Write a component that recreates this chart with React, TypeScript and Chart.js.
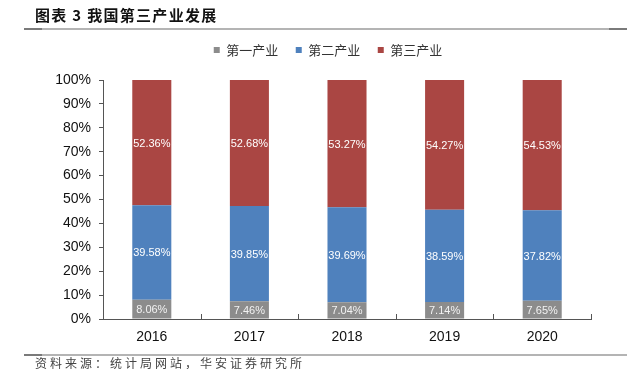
import React, { useEffect, useRef } from "react";
import { Chart, registerables } from "chart.js";

Chart.register(...registerables);

const categories = ["2016", "2017", "2018", "2019", "2020"];
const primary = [8.06, 7.46, 7.04, 7.14, 7.65];
const secondary = [39.58, 39.85, 39.69, 38.59, 37.82];
const tertiary = [52.36, 52.68, 53.27, 54.27, 54.53];
const seriesNames = ["第一产业", "第二产业", "第三产业"];
const seriesColors = ["#8C8C8C", "#4F81BD", "#AA4643"];
const labelColors = ["#F2F2F2", "#FFFFFF", "#FFFFFF"];
const yTicks = [0, 10, 20, 30, 40, 50, 60, 70, 80, 90, 100];

const LATIN = "'Liberation Sans', Arial, sans-serif";
const CJK = "'Noto Sans CJK SC', sans-serif";

const segLabels = {
  id: "segLabels",
  afterDatasetsDraw(chart: any) {
    const ctx = chart.ctx;
    ctx.save();
    ctx.font = `11px ${LATIN}`;
    ctx.textAlign = "center";
    ctx.textBaseline = "middle";
    chart.data.datasets.forEach((ds: any, di: number) => {
      const meta = chart.getDatasetMeta(di);
      meta.data.forEach((bar: any, i: number) => {
        const p = bar.getProps(["x", "y", "base"], true);
        ctx.fillStyle = labelColors[di];
        ctx.fillText(ds.data[i].toFixed(2) + "%", p.x, (p.y + p.base) / 2 + 1);
      });
    });
    ctx.restore();
  },
};

const catTicks = {
  id: "catTicks",
  afterLayout(chart: any) {
    // let the y tick labels extend into the left padding without being clipped
    chart.scales.y.left = 0;
  },
  afterDraw(chart: any) {
    const xs = chart.scales.x;
    const ctx = chart.ctx;
    const n = categories.length;
    const step = (xs.right - xs.left) / n;
    ctx.save();
    ctx.strokeStyle = "#555";
    ctx.lineWidth = 1;
    for (let i = 1; i <= n; i++) {
      const x = Math.round(xs.left + step * i) + 0.5;
      ctx.beginPath();
      ctx.moveTo(x, xs.top);
      ctx.lineTo(x, xs.top - 5);
      ctx.stroke();
    }
    ctx.restore();
  },
};

export default function App() {
  const ref = useRef<HTMLCanvasElement>(null);
  useEffect(() => {
    const chart = new Chart(ref.current!, {
      type: "bar",
      data: {
        labels: categories,
        datasets: [primary, secondary, tertiary].map((d, i) => ({
          label: seriesNames[i],
          data: d,
          backgroundColor: seriesColors[i],
          borderWidth: 0,
          barPercentage: 0.4,
          categoryPercentage: 1,
        })),
      },
      options: {
        animation: false,
        responsive: false,
        events: [],
        layout: { padding: { top: 26, left: 65, right: 47, bottom: 0 } },
        plugins: {
          tooltip: { enabled: false },
          legend: {
            position: "top",
            labels: {
              boxWidth: 6,
              boxHeight: 6,
              padding: 17.5,
              color: "#333",
              font: { family: CJK, size: 13 },
            },
          },
          title: {
            display: true,
            text: "",
            weight: 500,
            padding: { top: 3.5, bottom: 0 },
            font: { size: 10, lineHeight: 1 },
          } as any,
        },
        scales: {
          x: {
            stacked: true,
            grid: { display: false, drawTicks: false },
            border: { display: true, color: "#555", width: 1 },
            ticks: { color: "#111", font: { family: LATIN, size: 14 }, padding: 10 },
            afterFit: (s: any) => {
              s.height = 50;
            },
          },
          y: {
            stacked: true,
            min: 0,
            max: 100,
            grid: { drawOnChartArea: false, drawTicks: true, tickLength: 4, color: "#555" },
            border: { display: true, color: "#555", width: 1 },
            afterBuildTicks: (s: any) => {
              s.ticks = yTicks.map((v) => ({ value: v }));
            },
            ticks: {
              color: "#111",
              font: { family: LATIN, size: 14 },
              padding: 8,
              callback: (v: any) => v + "%",
            },
            afterFit: (s: any) => {
              s.width = 38;
            },
          },
        },
      },
      plugins: [segLabels, catTicks],
    } as any);
    return () => chart.destroy();
  }, []);

  const lineStyle = (top: number): React.CSSProperties => ({
    position: "absolute",
    left: 24,
    top,
    width: 603,
    height: 2,
    background: "#B4B4B4",
  });
  const capStyle = (top: number, left: number): React.CSSProperties => ({
    position: "absolute",
    left,
    top,
    width: 18,
    height: 2,
    background: "#7A7A7A",
  });

  return (
    <div style={{ position: "absolute", left: 0, top: 0, width: 638, height: 369, background: "#fff", overflow: "hidden" }}>
      <canvas ref={ref} width={638} height={369} style={{ position: "absolute", left: 0, top: 0 }} />
      <div
        style={{
          position: "absolute",
          left: 35,
          top: 5,
          fontFamily: CJK,
          fontWeight: 700,
          fontSize: 15,
          lineHeight: "20px",
          letterSpacing: 1.3,
          color: "#111",
          whiteSpace: "pre",
        }}
      >
        {"图表 3 我国第三产业发展"}
      </div>
      <div style={lineStyle(28)} />
      <div style={capStyle(28, 24)} />
      <div style={capStyle(28, 609)} />
      <div style={lineStyle(354)} />
      <div style={capStyle(354, 24)} />
      <div
        style={{
          position: "absolute",
          left: 35,
          top: 355,
          fontFamily: CJK,
          fontSize: 12,
          lineHeight: "15px",
          letterSpacing: 3,
          color: "#444",
          whiteSpace: "pre",
        }}
      >
        {"资料来源：统计局网站，华安证券研究所"}
      </div>
    </div>
  );
}
